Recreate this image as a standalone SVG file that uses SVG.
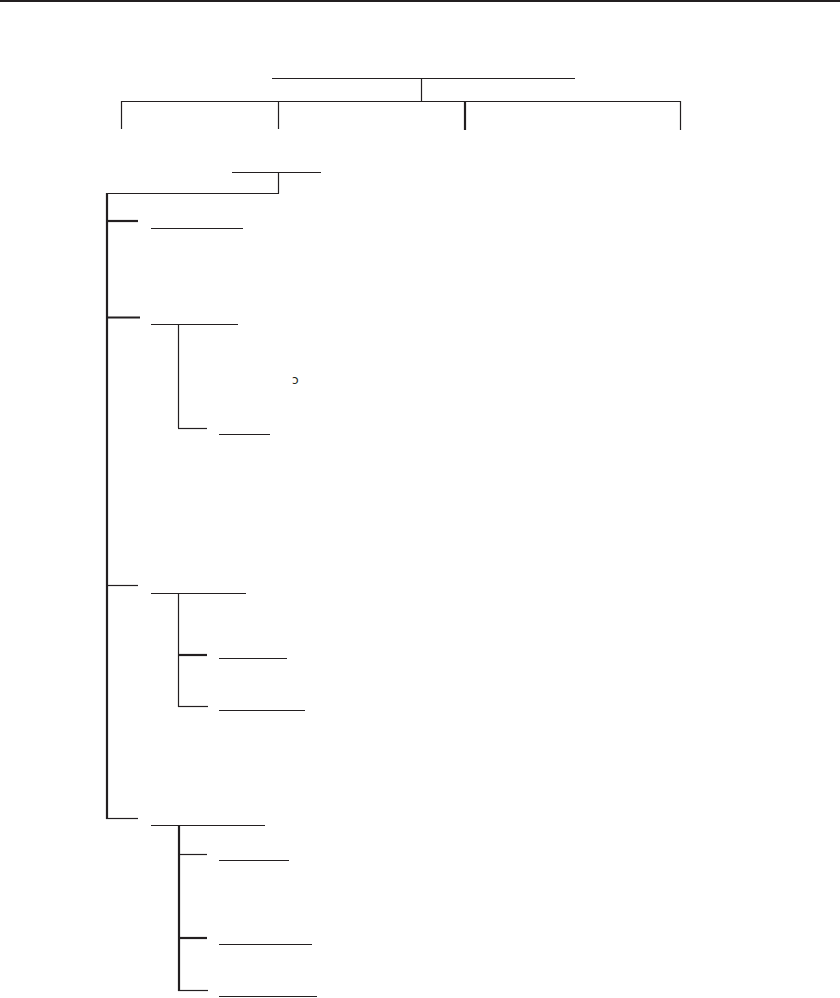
<svg xmlns="http://www.w3.org/2000/svg" width="840" height="998" viewBox="0 0 840 998">
<style>
.c{stroke:#231f20;stroke-width:1.2;fill:none}
.t{stroke:#231f20;stroke-width:2.2;fill:none}
.n{stroke:#231f20;stroke-width:1.2;fill:none}
.g{font-family:"DejaVu Sans","Liberation Sans",sans-serif;font-size:12px;fill:#231f20}
</style>
<rect x="0" y="0" width="840" height="2" fill="#231f20"/>
<g id="nodes">
<g id="root"><line class="n" x1="272" y1="78.5" x2="575" y2="78.5"/></g>
<g id="n-main"><line class="n" x1="232" y1="172.5" x2="321" y2="172.5"/></g>
<g id="n-a"><line class="n" x1="151" y1="228.5" x2="243" y2="228.5"/></g>
<g id="n-b"><line class="n" x1="151" y1="324.5" x2="238" y2="324.5"/><text class="g" x="292" y="384">ɔ</text></g>
<g id="n-b1"><line class="n" x1="219" y1="434.5" x2="270" y2="434.5"/></g>
<g id="n-c"><line class="n" x1="151" y1="593.5" x2="246" y2="593.5"/></g>
<g id="n-c1"><line class="n" x1="219" y1="658.5" x2="287" y2="658.5"/></g>
<g id="n-c2"><line class="n" x1="219" y1="710.5" x2="305" y2="710.5"/></g>
<g id="n-d"><line class="n" x1="151" y1="825.5" x2="265" y2="825.5"/></g>
<g id="n-d1"><line class="n" x1="219" y1="860.5" x2="289" y2="860.5"/></g>
<g id="n-d2"><line class="n" x1="219" y1="944.5" x2="312" y2="944.5"/></g>
<g id="n-d3"><line class="n" x1="219" y1="996.5" x2="317" y2="996.5"/></g>
</g>
<g id="connectors">
<line class="c" x1="421.5" y1="78" x2="421.5" y2="102"/>
<line class="c" x1="121" y1="101.5" x2="681" y2="101.5"/>
<line class="c" x1="121.5" y1="101" x2="121.5" y2="129"/>
<line class="c" x1="278.5" y1="101" x2="278.5" y2="129"/>
<line class="t" x1="465" y1="101" x2="465" y2="130"/>
<line class="c" x1="680.5" y1="101" x2="680.5" y2="130"/>
<line class="c" x1="278.5" y1="172" x2="278.5" y2="193.5"/>
<line class="c" x1="106" y1="193.5" x2="279" y2="193.5"/>
<line class="t" x1="107" y1="193" x2="107" y2="819"/>
<line class="t" x1="106" y1="221" x2="138" y2="221"/>
<line class="t" x1="106" y1="317.5" x2="140" y2="317.5"/>
<line class="c" x1="106" y1="585.5" x2="138" y2="585.5"/>
<line class="c" x1="106" y1="818.5" x2="138" y2="818.5"/>
<line class="c" x1="178.5" y1="324" x2="178.5" y2="428"/>
<line class="c" x1="178" y1="428.5" x2="207" y2="428.5"/>
<line class="c" x1="178.5" y1="593" x2="178.5" y2="707"/>
<line class="t" x1="178" y1="655" x2="207" y2="655"/>
<line class="c" x1="178" y1="706.5" x2="208" y2="706.5"/>
<line class="t" x1="179" y1="825" x2="179" y2="991"/>
<line class="c" x1="178" y1="854.5" x2="207" y2="854.5"/>
<line class="t" x1="178" y1="938" x2="207" y2="938"/>
<line class="c" x1="178" y1="990.5" x2="208" y2="990.5"/>
</g>
</svg>
